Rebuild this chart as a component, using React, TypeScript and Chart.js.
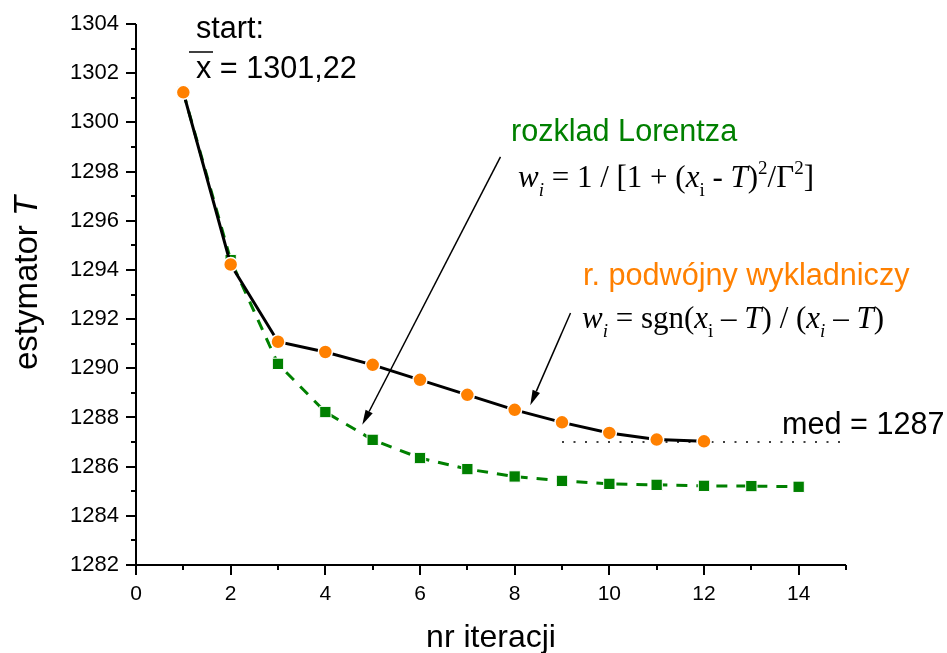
import React, { useEffect, useRef } from 'react';
import { Chart, registerables } from 'chart.js';

Chart.register(...registerables);

// ---- data ----
const iterations = [1, 2, 3, 4, 5, 6, 7, 8, 9, 10, 11, 12, 13, 14];
const exponentialT = [1301.22, 1294.22, 1291.08, 1290.66, 1290.14, 1289.53, 1288.92, 1288.31, 1287.8, 1287.37, 1287.1, 1287.03];
const lorentzT = [1301.22, 1294.4, 1290.18, 1288.22, 1287.09, 1286.35, 1285.9, 1285.6, 1285.42, 1285.3, 1285.26, 1285.22, 1285.21, 1285.18];
const medianX = [9, 15];
const medianValue = 1287;
const startValueLabel = '1301,22';

const X_MIN = 0;
const X_MAX = 15;
const X_STEP = 2;
const Y_MIN = 1282;
const Y_MAX = 1304;
const Y_STEP = 2;

const SANS = '"Liberation Sans", Arial, Helvetica, sans-serif';
const SERIF = '"Liberation Serif", "Times New Roman", serif';
const GREEN = '#008000';
const ORANGE = '#FF8000';
const LABEL_FONT = `30.6px ${SANS}`;

type Part = { t: string; italic?: boolean; sub?: boolean; sup?: boolean };

function drawRich(ctx: CanvasRenderingContext2D, x: number, y: number, parts: Part[], size: number) {
  let cx = x;
  for (const p of parts) {
    const small = p.sub || p.sup;
    const fs = small ? Math.round(size * 0.6) : size;
    ctx.font = `${p.italic ? 'italic ' : ''}${fs}px ${SERIF}`;
    const dy = p.sub ? size * 0.3 : p.sup ? -size * 0.42 : 0;
    ctx.fillText(p.t, cx, y + dy);
    cx += ctx.measureText(p.t).width;
  }
}

function drawArrow(ctx: CanvasRenderingContext2D, x1: number, y1: number, x2: number, y2: number) {
  const ang = Math.atan2(y2 - y1, x2 - x1);
  const headLen = 15;
  const headW = 4;
  const bx = x2 - headLen * Math.cos(ang);
  const by = y2 - headLen * Math.sin(ang);
  ctx.beginPath();
  ctx.moveTo(x1, y1);
  ctx.lineTo(bx, by);
  ctx.lineWidth = 1.5;
  ctx.strokeStyle = '#000';
  ctx.stroke();
  ctx.beginPath();
  ctx.moveTo(x2, y2);
  ctx.lineTo(bx + headW * Math.sin(ang), by - headW * Math.cos(ang));
  ctx.lineTo(bx - headW * Math.sin(ang), by + headW * Math.cos(ang));
  ctx.closePath();
  ctx.fillStyle = '#000';
  ctx.fill();
}

const axesPlugin = {
  id: 'originAxes',
  beforeDatasetsDraw(chart: any) {
    const { ctx, chartArea: a, scales } = chart;
    const xs = scales.x;
    const ys = scales.y;
    ctx.save();
    ctx.strokeStyle = '#000';
    ctx.lineWidth = 2;
    ctx.beginPath();
    ctx.moveTo(a.left, a.top);
    ctx.lineTo(a.left, a.bottom);
    ctx.lineTo(a.right, a.bottom);
    ctx.stroke();
    ctx.beginPath();
    for (let v = X_MIN; v <= X_MAX; v += 1) {
      const px = Math.round(xs.getPixelForValue(v));
      const len = v % X_STEP === 0 ? 10 : 5;
      ctx.moveTo(px, a.bottom);
      ctx.lineTo(px, a.bottom + len);
    }
    for (let v = Y_MIN; v <= Y_MAX; v += 1) {
      const py = Math.round(ys.getPixelForValue(v));
      const len = (v - Y_MIN) % Y_STEP === 0 ? 10 : 5;
      ctx.moveTo(a.left, py);
      ctx.lineTo(a.left - len, py);
    }
    ctx.stroke();
    ctx.restore();
  },
  afterDraw(chart: any) {
    const { ctx, scales } = chart;
    const xs = scales.x;
    const ys = scales.y;
    const X = (v: number) => xs.getPixelForValue(v);
    const Y = (v: number) => ys.getPixelForValue(v);
    ctx.save();
    ctx.textAlign = 'left';
    ctx.textBaseline = 'alphabetic';
    ctx.fillStyle = '#000';

    // start label
    ctx.font = LABEL_FONT;
    ctx.fillText('start:', 196, 38);
    ctx.fillText('x = ' + startValueLabel, 196, 78);
    ctx.lineWidth = 1.5;
    ctx.strokeStyle = '#000';
    ctx.beginPath();
    ctx.moveTo(189, 52);
    ctx.lineTo(213, 52);
    ctx.stroke();

    // Lorentz label
    ctx.fillStyle = GREEN;
    ctx.font = LABEL_FONT;
    ctx.fillText('rozklad Lorentza', 511, 141);
    ctx.fillStyle = '#000';
    drawRich(ctx, 518, 187, [
      { t: 'w', italic: true },
      { t: 'i', italic: true, sub: true },
      { t: ' = 1 / [1 + (' },
      { t: 'x', italic: true },
      { t: 'i', sub: true },
      { t: ' - ' },
      { t: 'T', italic: true },
      { t: ')' },
      { t: '2', sup: true },
      { t: '/Γ' },
      { t: '2', sup: true },
      { t: ']' },
    ], 31);

    // double exponential label
    ctx.fillStyle = ORANGE;
    ctx.font = LABEL_FONT;
    ctx.fillText('r. podwójny wykladniczy', 583, 285);
    ctx.fillStyle = '#000';
    drawRich(ctx, 582, 328, [
      { t: 'w', italic: true },
      { t: 'i', italic: true, sub: true },
      { t: ' = sgn(' },
      { t: 'x', italic: true },
      { t: 'i', sub: true },
      { t: ' – ' },
      { t: 'T', italic: true },
      { t: ') / (' },
      { t: 'x', italic: true },
      { t: 'i', italic: true, sub: true },
      { t: ' – ' },
      { t: 'T', italic: true },
      { t: ')' },
    ], 31);

    // median label
    ctx.font = LABEL_FONT;
    ctx.fillText('med = ' + medianValue, 782, 434);

    // arrows
    drawArrow(ctx, X(7.7), Y(1298.6), X(4.78), Y(1287.7));
    drawArrow(ctx, X(9.18), Y(1292.25), X(8.33), Y(1288.5));

    // axis titles
    ctx.fillStyle = '#000';
    ctx.font = `32px ${SANS}`;
    ctx.textAlign = 'center';
    ctx.fillText('nr iteracji', 491, 647);

    ctx.save();
    ctx.translate(37, 283);
    ctx.rotate(-Math.PI / 2);
    ctx.textAlign = 'left';
    ctx.font = `33px ${SANS}`;
    const w1 = ctx.measureText('estymator ').width;
    ctx.font = `italic 33px ${SANS}`;
    const w2 = ctx.measureText('T').width;
    const start = -(w1 + w2) / 2;
    ctx.font = `33px ${SANS}`;
    ctx.fillText('estymator ', start, 0);
    ctx.font = `italic 33px ${SANS}`;
    ctx.fillText('T', start + w1, 0);
    ctx.restore();

    ctx.restore();
  },
};

export default function App() {
  const ref = useRef<HTMLCanvasElement | null>(null);
  useEffect(() => {
    if (!ref.current) return;
    const chart = new Chart(ref.current, {
      type: 'line',
      data: {
        datasets: [
          {
            label: 'r. podwójny wykladniczy',
            data: exponentialT.map((v, i) => ({ x: iterations[i], y: v })),
            borderColor: '#000',
            borderWidth: 3,
            pointStyle: 'circle',
            pointRadius: 7,
            pointBackgroundColor: ORANGE,
            pointBorderColor: '#fff',
            pointBorderWidth: 1.5,
            tension: 0,
            order: 1,
          },
          {
            label: 'rozklad Lorentza',
            data: lorentzT.map((v, i) => ({ x: iterations[i], y: v })),
            borderColor: GREEN,
            borderWidth: 3,
            borderDash: [11, 9],
            pointStyle: 'rect',
            pointRadius: 8,
            pointBackgroundColor: GREEN,
            pointBorderColor: '#fff',
            pointBorderWidth: 1,
            tension: 0,
            order: 2,
          },
          {
            label: 'med',
            data: medianX.map((x) => ({ x, y: medianValue })),
            borderColor: '#000',
            borderWidth: 1.5,
            borderDash: [2, 9.5],
            pointRadius: 0,
            tension: 0,
            order: 3,
          },
        ],
      },
      options: {
        responsive: false,
        animation: false,
        events: [],
        layout: { padding: { top: 24, right: 101, left: 0, bottom: 0 } },
        plugins: {
          legend: { display: false },
          tooltip: { enabled: false },
          title: { display: false },
        },
        scales: {
          x: {
            type: 'linear',
            min: X_MIN,
            max: X_MAX,
            grid: { display: false, drawTicks: false },
            border: { display: false },
            ticks: {
              stepSize: X_STEP,
              includeBounds: false,
              autoSkip: false,
              maxRotation: 0,
              padding: 17,
              color: '#000',
              font: { family: SANS, size: 21 },
              callback: (v: any) => (Number(v) % X_STEP === 0 ? String(v) : ''),
            },
            afterFit: (s: any) => { s.height = 88; s.paddingLeft = 0; s.paddingRight = 0; },
          },
          y: {
            type: 'linear',
            min: Y_MIN,
            max: Y_MAX,
            grid: { display: false, drawTicks: false },
            border: { display: false },
            ticks: {
              stepSize: Y_STEP,
              autoSkip: false,
              padding: 17,
              color: '#000',
              font: { family: SANS, size: 22 },
              callback: (v: any) => String(v),
            },
            afterFit: (s: any) => { s.width = 136; s.paddingTop = 0; s.paddingBottom = 0; },
          },
        },
      },
      plugins: [axesPlugin],
    });
    return () => chart.destroy();
  }, []);
  return (
    <div style={{ position: 'fixed', left: 0, top: 0, width: 947, height: 653, background: '#fff' }}>
      <canvas ref={ref} width={947} height={653} />
    </div>
  );
}
